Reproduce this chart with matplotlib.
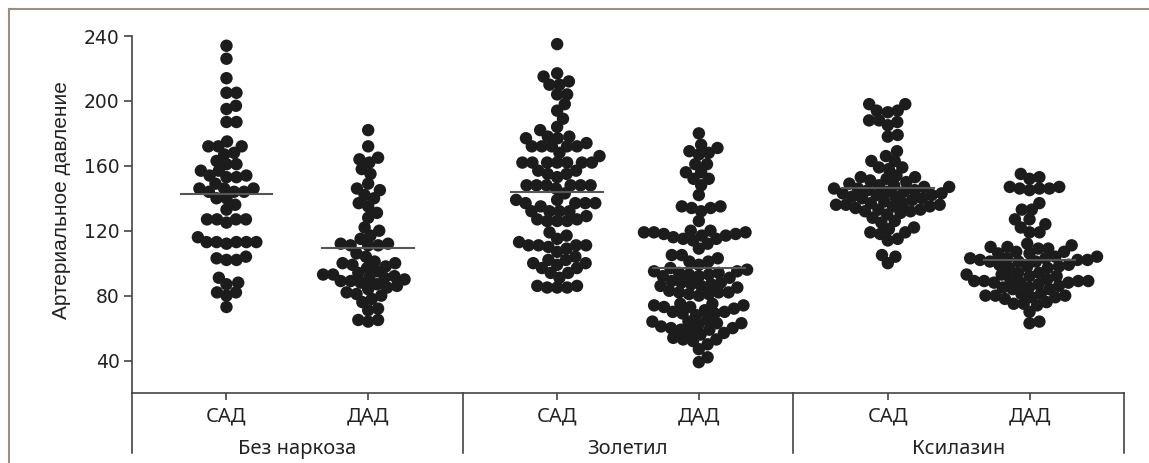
import matplotlib
matplotlib.use("Agg")
import matplotlib.pyplot as plt
import matplotlib.transforms as mtransforms
from matplotlib.lines import Line2D
import numpy as np

groups = ["Без наркоза", "Золетил", "Ксилазин"]
measures = ["САД", "ДАД"]

# values (mm Hg)
bez_sad = [234, 226, 214, 205, 205, 197, 195, 187, 187, 175, 172, 172, 172, 168, 167,
           163, 161, 161, 157, 157, 154, 154, 153, 153, 149, 146, 146, 146, 144, 144,
           144, 140, 140, 136, 133, 127, 127, 127, 127, 125, 116, 113, 113, 113, 113,
           113, 112, 104, 103, 102, 102, 91, 88, 87, 82, 82, 80, 73]
bez_dad = [182, 172, 165, 164, 162, 158, 155, 149, 146, 145, 142, 140, 137, 135, 131,
           128, 122, 120, 117, 115, 112, 112, 111, 111, 111, 106, 104, 101, 100, 100,
           99, 98, 97, 95, 94, 93, 93, 92, 91, 91, 90, 89, 89, 88, 87, 86, 85, 84, 82,
           81, 80, 78, 76, 72, 71, 65, 65, 64]
zol_sad = [235, 215, 217, 212, 210, 210, 204, 204, 198, 194, 189, 184, 182, 178, 178,
           177, 177, 174, 172, 172, 172, 172, 172, 168, 166, 162, 162, 162, 162, 162,
           162, 162, 157, 157, 155, 155, 153, 148, 148, 148, 148, 148, 148, 146, 143,
           139, 139, 137, 137, 137, 137, 135, 132, 132, 132, 132, 129, 127, 127, 126,
           126, 126, 119, 117, 115, 113, 111, 111, 111, 111, 110, 109, 107, 104, 102,
           102, 100, 100, 99, 97, 97, 94, 94, 91, 86, 86, 85, 85, 85]
zol_dad = [180, 173, 171, 169, 168, 167, 161, 161, 156, 156, 152, 152, 148, 142, 135,
           135, 134, 134, 132, 126, 120, 120, 119, 119, 119, 118, 118, 117, 117, 116,
           115, 115, 114, 112, 109, 105, 105, 103, 101, 101, 99, 97, 96, 95, 95, 94,
           94, 93, 93, 92, 92, 91, 89, 88, 88, 87, 87, 86, 86, 85, 83, 82, 82, 82, 81,
           81, 80, 75, 75, 74, 74, 73, 73, 72, 71, 70, 70, 69, 69, 68, 65, 64, 64, 63,
           63, 62, 61, 60, 60, 59, 59, 58, 57, 56, 54, 53, 53, 52, 50, 47, 42, 39]
ksi_sad = [198, 198, 194, 194, 193, 188, 188, 187, 185, 179, 178, 169, 166, 163, 163,
           159, 159, 158, 154, 153, 153, 152, 151, 150, 149, 148, 148, 147, 147, 146,
           146, 145, 145, 144, 144, 143, 143, 142, 142, 141, 141, 140, 140, 139, 138,
           137, 137, 136, 136, 136, 135, 135, 134, 133, 133, 132, 132, 131, 130, 128,
           126, 125, 122, 121, 119, 119, 118, 115, 114, 105, 104, 100]
ksi_dad = [155, 153, 152, 147, 147, 146, 146, 146, 145, 137, 133, 133, 127, 127, 124,
           122, 119, 119, 112, 111, 110, 110, 109, 109, 107, 107, 106, 106, 104, 104,
           103, 103, 103, 102, 102, 102, 101, 101, 101, 99, 99, 98, 98, 97, 97, 94, 94,
           93, 93, 92, 92, 90, 90, 89, 89, 89, 89, 88, 88, 88, 87, 86, 85, 85, 84, 84,
           81, 81, 80, 80, 80, 79, 79, 78, 76, 75, 75, 74, 70, 64, 63]

series = [bez_sad, bez_dad, zol_sad, zol_dad, ksi_sad, ksi_dad]
y_ticks = [40, 80, 120, 160, 200, 240]

W, H = 1149, 463
fig = plt.figure(figsize=(W / 100, H / 100), dpi=100)
ax = fig.add_axes([132 / W, 70 / H, 992 / W, 357 / H])
ax.set_xlim(0, 21)
ax.set_ylim(20, 240)

# each group spans 7 units, САД at +2 and ДАД at +5
positions = [7 * g + 2 + 3 * m for g in range(len(groups)) for m in range(len(measures))]


def beeswarm(x0, vals, dmin=10.0):
    # greedy swarm in pixel space (dots may overlap a little), then back to data units
    vals = np.asarray(vals, float)
    xy = ax.transData.transform(np.column_stack([np.full(len(vals), x0, float), vals]))
    ys = xy[:, 1]
    xs = np.zeros(len(vals))
    done = []
    for i in np.argsort(ys):
        near = [j for j in done if abs(ys[j] - ys[i]) < dmin]
        cands = [0.0]
        for j in near:
            dx = np.sqrt(dmin ** 2 - (ys[j] - ys[i]) ** 2)
            cands += [xs[j] + dx, xs[j] - dx]
        cands.sort(key=abs)
        for c in cands:
            if all((xs[j] - c) ** 2 + (ys[j] - ys[i]) ** 2 >= dmin ** 2 - 1e-6 for j in near):
                xs[i] = c
                break
        done.append(i)
    back = ax.transData.inverted().transform(np.column_stack([xy[:, 0] + xs, ys]))
    return back[:, 0]


for x0, vals in zip(positions, series):
    xs = beeswarm(x0, vals)
    ax.scatter(xs, vals, s=80, color="#1c1c1c", edgecolors="none", zorder=2)
    m = np.mean(vals)
    ax.plot([x0 - 0.97, x0 + 0.97], [m, m], color="#555555", lw=1.5, zorder=3)

axis_col = "#444444"
for side in ["top", "right"]:
    ax.spines[side].set_visible(False)
for side in ["left", "bottom"]:
    ax.spines[side].set_color(axis_col)
    ax.spines[side].set_linewidth(1.2)

ax.set_yticks(y_ticks)
ax.set_yticklabels([str(v) for v in y_ticks], family="DejaVu Sans", fontsize=13.5,
                   color="#222222")
ax.tick_params(axis="y", length=6, width=1.2, color=axis_col, pad=3)
ax.set_xticks(positions)
ax.tick_params(axis="x", length=5, width=1.2, color=axis_col, labelbottom=False)

ax.text(-0.071, 0.54, "Артериальное давление", transform=ax.transAxes, rotation=90,
        ha="center", va="center", family="Liberation Sans", fontsize=15, color="#222222")

# category labels and separators under the axis
trans = mtransforms.blended_transform_factory(ax.transData, ax.transAxes)
for x0, lab in zip(positions, measures * len(groups)):
    ax.text(x0, -0.067, lab, transform=trans, ha="center", va="center",
            family="Noto Sans", fontsize=14.5, color="#222222")
for g, name in enumerate(groups):
    ax.text(7 * g + 3.5, -0.158, name, transform=trans, ha="center", va="center",
            family="Noto Sans", fontsize=14.5, color="#222222")
for xs in [0, 7, 14, 21]:
    ax.plot([xs, xs], [0, -0.168], transform=trans, color=axis_col, lw=1.2,
            clip_on=False)

# thin outer frame (top and left)
frame_col = "#9b8f7f"
fig.add_artist(Line2D([9 / W, 1], [1 - 9 / H, 1 - 9 / H], color=frame_col, lw=1.5))
fig.add_artist(Line2D([9 / W, 9 / W], [0, 1 - 9 / H], color=frame_col, lw=1.5))

fig.savefig("out.png", dpi=100)
